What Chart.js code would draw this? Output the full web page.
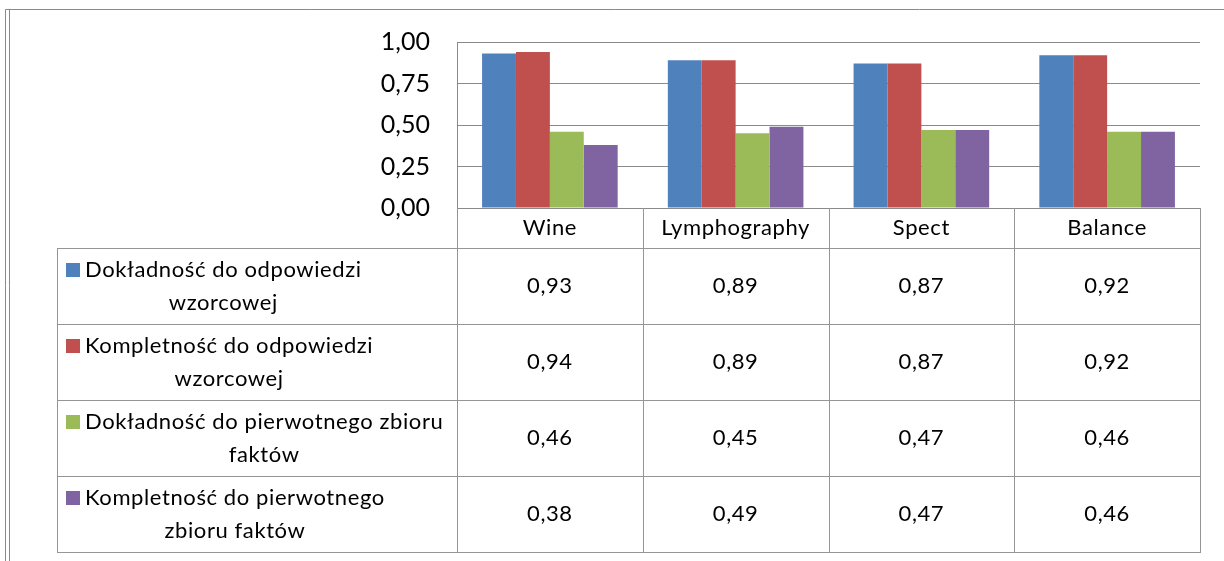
<!DOCTYPE html>
<html>
<head>
<meta charset="utf-8">
<script src="https://cdn.jsdelivr.net/npm/chart.js@4/dist/chart.umd.min.js"></script>
<style>
   body { margin: 0; background: #fff; }
   canvas { display: block; }
</style>
</head>
<body>
<canvas id="chartWyniki" width="1224" height="561"></canvas>
<script>
const categories = ['Wine', 'Lymphography', 'Spect', 'Balance'];
const seriesNames = [
   ['Dokładność do odpowiedzi', 'wzorcowej'],
   ['Kompletność do odpowiedzi', 'wzorcowej'],
   ['Dokładność do pierwotnego zbioru', 'faktów'],
   ['Kompletność do pierwotnego', 'zbioru faktów']
];
const dokladnoscWzorcowa = [0.93, 0.89, 0.87, 0.92];
const kompletnoscWzorcowa = [0.94, 0.89, 0.87, 0.92];
const dokladnoscPierwotna = [0.46, 0.45, 0.47, 0.46];
const kompletnoscPierwotna = [0.38, 0.49, 0.47, 0.46];
const yTicks = [0, 0.25, 0.5, 0.75, 1];

const colors = ['#4F81BD', '#C0504D', '#9BBB59', '#8064A2'];
const FONT = 'Lato';
const LINE_TABELA = '#959595';
const LINE_SIATKA = '#8a8a8a';
const FORMAT = v => v.toFixed(2).replace('.', ',');

// tabela danych pod wykresem (jak w Excelu)
const tabelaPlugin = {
   id: 'tabela',
   beforeDraw(chart) {
      const ctx = chart.ctx;
      ctx.save();
      ctx.strokeStyle = '#8a8a8a';
      ctx.lineWidth = 1;
      ctx.beginPath();
      ctx.moveTo(5.5, 561); ctx.lineTo(5.5, 9.5); ctx.lineTo(1224, 9.5);
      ctx.moveTo(9.5, 561); ctx.lineTo(9.5, 9.5);
      ctx.stroke();
      ctx.restore();
   },
   afterDraw(chart) {
      const ctx = chart.ctx;
      const x = chart.scales.x;
      const area = chart.chartArea;
      const n = categories.length;
      const colW = (x.right - x.left) / n;
      const tableLeft = 57;
      const headerBottom = 248;
      const rowH = 76;
      const rows = seriesNames.length;
      const tableBottom = headerBottom + rowH * rows;

      ctx.save();
      ctx.strokeStyle = LINE_TABELA;
      ctx.lineWidth = 1;
      ctx.beginPath();
      // linie pionowe
      for (let i = 0; i <= n; i++) {
         const px = Math.round(x.left + i * colW) + 0.5;
         ctx.moveTo(px, area.bottom); ctx.lineTo(px, tableBottom);
      }
      ctx.moveTo(tableLeft + 0.5, headerBottom); ctx.lineTo(tableLeft + 0.5, tableBottom);
      // linie poziome
      for (let r = 0; r <= rows; r++) {
         const py = headerBottom + r * rowH + 0.5;
         ctx.moveTo(tableLeft, py); ctx.lineTo(x.right + 1, py);
      }
      ctx.stroke();

      ctx.fillStyle = '#000';
      ctx.textBaseline = 'middle';
      ctx.textAlign = 'center';
      ctx.letterSpacing = '0.6px';

      // naglowki kategorii
      ctx.font = `22px ${FONT}`;
      categories.forEach((c, i) => {
         ctx.fillText(c, x.getPixelForValue(i), (area.bottom + headerBottom) / 2);
      });

      // wartosci i legenda
      chart.data.datasets.forEach((ds, r) => {
         const cy = headerBottom + r * rowH + rowH / 2;
         ctx.font = `22px ${FONT}`;
         ctx.textAlign = 'center';
         ds.data.forEach((v, i) => {
            ctx.fillText(FORMAT(v), x.getPixelForValue(i), cy);
         });

         const lines = seriesNames[r];
         const y1 = cy - 16, y2 = cy + 17;
         ctx.fillStyle = ds.backgroundColor;
         ctx.fillRect(66, y1 - 7, 14, 14);
         ctx.fillStyle = '#000';
         ctx.font = `22px ${FONT}`;
         ctx.textAlign = 'left';
         const w1 = ctx.measureText(lines[0]).width;
         ctx.fillText(lines[0], 85, y1);
         ctx.textAlign = 'center';
         ctx.fillText(lines[1], 85 + w1 / 2, y2);
      });
      ctx.restore();
   }
};

const ctx = document.getElementById('chartWyniki').getContext('2d');
const datasets = [dokladnoscWzorcowa, kompletnoscWzorcowa, dokladnoscPierwotna, kompletnoscPierwotna]
   .map((data, i) => ({
      label: seriesNames[i].join(' '),
      data: data,
      backgroundColor: colors[i],
      borderWidth: 0,
      categoryPercentage: 0.73,
      barPercentage: 1.0,
   }));

const chartWyniki = new Chart(ctx, {
   type: 'bar',
   data: { labels: categories, datasets: datasets },
   options: {
      responsive: false,
      animation: false,
      layout: { padding: { top: 42, right: 24, bottom: 353, left: 0 } },
      scales: {
         x: { display: false },
         y: {
            min: 0,
            max: 1,
            afterFit: scale => { scale.width = 457; },
            afterBuildTicks: scale => { scale.ticks = yTicks.map(v => ({ value: v })); },
            ticks: {
               padding: 27,
               color: '#000',
               font: { family: FONT, size: 25 },
               callback: v => FORMAT(v),
            },
            grid: { color: LINE_SIATKA, drawTicks: false },
            border: { display: true, color: LINE_SIATKA },
         }
      },
      plugins: {
         legend: { display: false },
         tooltip: { enabled: false },
      }
   },
   plugins: [tabelaPlugin]
});
</script>
</body>
</html>
